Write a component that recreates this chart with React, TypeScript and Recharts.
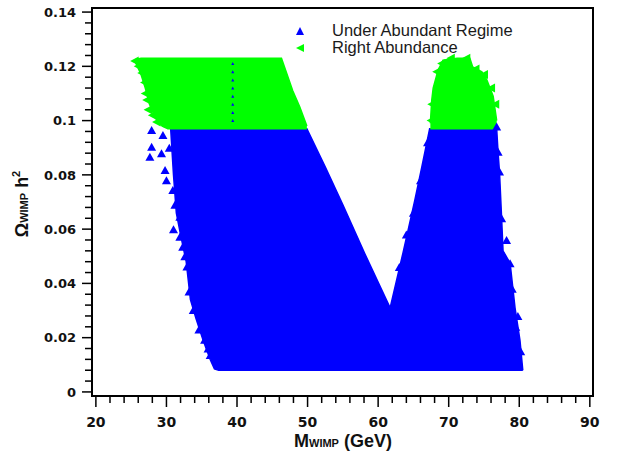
import {
  Area,
  ComposedChart,
  Legend,
  ReferenceArea,
  Scatter,
  XAxis,
  YAxis,
} from "recharts";

// under abundant region: x, lower edge, upper edge
const blueX = [
  30.6, 31.0, 31.4, 32.0, 32.8, 33.4, 34.2, 35.2, 36.2, 36.8, 37.4, 49.9, 52.5,
  55.0, 58.1, 61.7, 63.5, 65.2, 66.2, 67.3, 76.8, 77.0, 77.2, 77.5, 77.7, 78.7,
  79.4, 80.1, 80.4, 80.5,
];
const blueLow = [
  0.097, 0.08, 0.066, 0.058, 0.048, 0.034, 0.027, 0.019, 0.012, 0.0085, 0.008,
  0.008, 0.008, 0.008, 0.008, 0.008, 0.008, 0.008, 0.008, 0.008, 0.008, 0.008,
  0.008, 0.008, 0.008, 0.008, 0.008, 0.008, 0.008, 0.008,
];
const blueHigh = [
  0.097, 0.097, 0.097, 0.097, 0.097, 0.097, 0.097, 0.097, 0.097, 0.097, 0.097,
  0.097, 0.083, 0.069, 0.051, 0.031, 0.051, 0.0707, 0.083, 0.097, 0.097, 0.088,
  0.081, 0.064, 0.052, 0.0475, 0.031, 0.019, 0.0107, 0.008,
];

// right abundance, left block
const greenLeftX = [25.6, 26.4, 27.0, 27.6, 28.4, 29.4, 30.2, 46.3, 47.9, 48.9, 49.9];
const greenLeftLow = [0.1215, 0.117, 0.112, 0.106, 0.101, 0.098, 0.097, 0.097, 0.097, 0.097, 0.097];
const greenLeftHigh = [0.1225, 0.123, 0.123, 0.123, 0.123, 0.123, 0.123, 0.123, 0.111, 0.105, 0.098];

// right abundance, right mound
const greenRightX = [67.4, 67.6, 67.8, 68.5, 69.2, 71.2, 73.0, 73.4, 74.7, 75.4, 76.3, 76.8];
const greenRightLow = [0.097, 0.097, 0.097, 0.097, 0.097, 0.097, 0.097, 0.097, 0.097, 0.097, 0.097, 0.097];
const greenRightHigh = [0.099, 0.1076, 0.112, 0.1186, 0.1223, 0.123, 0.123, 0.1198, 0.118, 0.115, 0.109, 0.1];

// loose triangles along the edges
const blueDotX = [
  27.9, 27.9, 27.65, 29.5, 29.3, 29.8, 30.0, 30.9, 31.2, 31.9, 31.9, 32.3, 32.9,
  34.0, 33.8, 35.0, 35.4, 36.2, 30.4, 31.0, 32.6, 33.2, 34.6, 35.9, 76.8, 77.0,
  77.2, 76.3, 77.5, 77.6, 78.7, 79.5, 78.2, 79.0, 79.8, 80.2, 67.0, 66.0, 65.0,
  64.0, 63.0,
];
const blueDotY = [
  0.0965, 0.0904, 0.0867, 0.0947, 0.088, 0.0818, 0.078, 0.0744, 0.069, 0.0646,
  0.0572, 0.0535, 0.0462, 0.0413, 0.0302, 0.0271, 0.0192, 0.0136, 0.09, 0.06,
  0.05, 0.037, 0.023, 0.016, 0.0978, 0.0885, 0.0812, 0.0695, 0.064, 0.0511, 0.0474,
  0.024, 0.056, 0.038, 0.028, 0.015, 0.092, 0.078, 0.066, 0.058, 0.046,
];
const specX = [39.4, 39.4, 39.4, 39.4, 39.4, 39.4, 39.4, 39.4];
const specY = [0.121, 0.118, 0.115, 0.112, 0.109, 0.106, 0.103, 0.1];
const greenDotX = [
  25.5, 26.0, 26.5, 26.9, 27.0, 27.2, 27.4, 28.6, 28.0, 29.2, 67.5, 67.6, 68.3,
  69.0, 70.3, 72.5, 73.8, 75.0, 76.0, 76.6,
];
const greenDotY = [
  0.122, 0.12, 0.1175, 0.114, 0.11, 0.1076, 0.104, 0.0995, 0.102, 0.099, 0.1,
  0.106, 0.118, 0.121, 0.123, 0.123, 0.119, 0.117, 0.112, 0.106,
];

const xTicks = [
  20, 22, 24, 26, 28, 30, 32, 34, 36, 38, 40, 42, 44, 46, 48, 50, 52, 54, 56, 58,
  60, 62, 64, 66, 68, 70, 72, 74, 76, 78, 80, 82, 84, 86, 88, 90,
];
const yTicks = [
  0, 0.004, 0.008, 0.012, 0.016, 0.02, 0.024, 0.028, 0.032, 0.036, 0.04, 0.044,
  0.048, 0.052, 0.056, 0.06, 0.064, 0.068, 0.072, 0.076, 0.08, 0.084, 0.088,
  0.092, 0.096, 0.1, 0.104, 0.108, 0.112, 0.116, 0.12, 0.124, 0.128, 0.132,
  0.136, 0.14,
];

const BLUE = "#0000ff";
const GREEN = "#00ff00";
const PLOT_LEFT = 92;
const PLOT_BOTTOM = 396;
const TICK_FONT = "DejaVu Sans";

type Row = {
  x: number;
  blue?: [number, number];
  greenL?: [number, number];
  greenR?: [number, number];
};

const rows: Row[] = [];
blueX.forEach((x, i) => rows.push({ x, blue: [blueLow[i], blueHigh[i]] }));
greenLeftX.forEach((x, i) => rows.push({ x, greenL: [greenLeftLow[i], greenLeftHigh[i]] }));
greenRightX.forEach((x, i) => rows.push({ x, greenR: [greenRightLow[i], greenRightHigh[i]] }));
rows.sort((a, b) => a.x - b.x);

const blueDots = blueDotX.map((x, i) => ({ x, y: blueDotY[i] }));
const specks = specX.map((x, i) => ({ x, y: specY[i] }));
const greenDots = greenDotX.map((x, i) => ({ x, y: greenDotY[i] }));

const UpTriangle = (props: any) => {
  const { cx, cy } = props;
  return (
    <polygon
      points={`${cx - 4.5},${cy + 4} ${cx + 4.5},${cy + 4} ${cx},${cy - 4}`}
      fill={BLUE}
    />
  );
};

const Speck = (props: any) => {
  const { cx, cy } = props;
  return (
    <polygon
      points={`${cx - 1.5},${cy + 1.5} ${cx + 1.5},${cy + 1.5} ${cx},${cy - 1.5}`}
      fill={BLUE}
    />
  );
};

const LeftTriangle = (props: any) => {
  const { cx, cy } = props;
  return (
    <polygon
      points={`${cx - 4.5},${cy} ${cx + 4},${cy - 4.5} ${cx + 4},${cy + 4.5}`}
      fill={GREEN}
    />
  );
};

const XTick = (props: any) => {
  const { x, payload } = props;
  const v = payload.value;
  const major = v % 10 === 0;
  return (
    <g>
      <line x1={x} x2={x} y1={PLOT_BOTTOM} y2={PLOT_BOTTOM + (major ? 11 : 7)} stroke="#000" strokeWidth={1.5} />
      {major && (
        <text x={x} y={PLOT_BOTTOM + 31} textAnchor="middle" fontFamily={TICK_FONT} fontWeight="bold" fontSize={14} fill="#111">
          {v}
        </text>
      )}
    </g>
  );
};

const YTick = (props: any) => {
  const { y, payload } = props;
  const v = payload.value;
  const major = Math.abs(v * 50 - Math.round(v * 50)) < 1e-6;
  return (
    <g>
      <line x1={PLOT_LEFT - (major ? 10 : 7)} x2={PLOT_LEFT} y1={y} y2={y} stroke="#000" strokeWidth={1.5} />
      {major && (
        <text x={PLOT_LEFT - 16} y={y} dy="0.36em" textAnchor="end" fontFamily={TICK_FONT} fontWeight="bold" fontSize={13} fill="#111">
          {v === 0 ? "0" : String(+v.toFixed(2))}
        </text>
      )}
    </g>
  );
};

const XTitle = () => (
  <text x={343} y={447} textAnchor="middle" fontFamily="Liberation Sans" fontWeight="bold" fontSize={18} fill="#111">
    M<tspan fontSize={11}>WIMP</tspan> (GeV)
  </text>
);

const YTitle = () => (
  <text
    x={28}
    y={204}
    transform="rotate(-90, 28, 204)"
    textAnchor="middle"
    fontFamily="Liberation Sans"
    fontWeight="bold"
    fontSize={18}
    fill="#111"
  >
    Ω<tspan fontSize={11}>WIMP</tspan> h<tspan fontSize={11} dy={-8}>2</tspan>
  </text>
);

const LegendBox = () => (
  <div style={{ fontFamily: "Liberation Sans", fontSize: 16.5, color: "#1a1a1a" }}>
    <div style={{ display: "flex", alignItems: "center", height: 17 }}>
      <svg width={12} height={12}>
        <polygon points="2,10 10,10 6,2" fill={BLUE} />
      </svg>
      <span style={{ marginLeft: 26 }}>Under Abundant Regime</span>
    </div>
    <div style={{ display: "flex", alignItems: "center", height: 17 }}>
      <svg width={12} height={12}>
        <polygon points="2,6 10,2 10,10" fill={GREEN} />
      </svg>
      <span style={{ marginLeft: 26 }}>Right Abundance</span>
    </div>
  </div>
);

export default function App() {
  return (
    <div style={{ position: "absolute", left: 0, top: 0, background: "#fff" }}>
      <ComposedChart
        width={618}
        height={456}
        data={rows}
        margin={{ top: 8, right: 25, bottom: 0, left: 0 }}
      >
        <XAxis
          dataKey="x"
          type="number"
          domain={[19.45, 90.45]}
          ticks={xTicks}
          interval={0}
          allowDataOverflow
          height={60}
          tickLine={false}
          tick={<XTick />}
          axisLine={{ stroke: "#000", strokeWidth: 2 }}
          label={XTitle}
        />
        <YAxis
          type="number"
          domain={[-0.0015, 0.1415]}
          ticks={yTicks}
          interval={0}
          allowDataOverflow
          width={92}
          tickLine={false}
          tick={<YTick />}
          axisLine={{ stroke: "#000", strokeWidth: 2 }}
          label={YTitle}
        />
        <Legend
          layout="horizontal"
          verticalAlign="middle"
          align="center"
          content={LegendBox}
          wrapperStyle={{ top: 22, left: 294, width: 240 }}
        />
        <Area
          dataKey="blue"
          type="linear"
          fill={BLUE}
          fillOpacity={1}
          stroke={BLUE}
          strokeWidth={1.5}
          connectNulls
          dot={false}
          activeDot={false}
          isAnimationActive={false}
        />
        <Area
          dataKey="greenL"
          type="linear"
          fill={GREEN}
          fillOpacity={1}
          stroke={GREEN}
          strokeWidth={1.5}
          connectNulls
          dot={false}
          activeDot={false}
          isAnimationActive={false}
        />
        <Area
          dataKey="greenR"
          type="linear"
          fill={GREEN}
          fillOpacity={1}
          stroke={GREEN}
          strokeWidth={1.5}
          connectNulls
          dot={false}
          activeDot={false}
          isAnimationActive={false}
        />
        <Scatter data={blueDots} dataKey="y" shape={UpTriangle} isAnimationActive={false} />
        <Scatter data={specks} dataKey="y" shape={Speck} isAnimationActive={false} />
        <Scatter data={greenDots} dataKey="y" shape={LeftTriangle} isAnimationActive={false} />
        <ReferenceArea
          x1={19.45}
          x2={90.45}
          y1={-0.0015}
          y2={0.1415}
          fill="none"
          fillOpacity={0}
          stroke="#000"
          strokeWidth={2}
          ifOverflow="visible"
        />
      </ComposedChart>
    </div>
  );
}
